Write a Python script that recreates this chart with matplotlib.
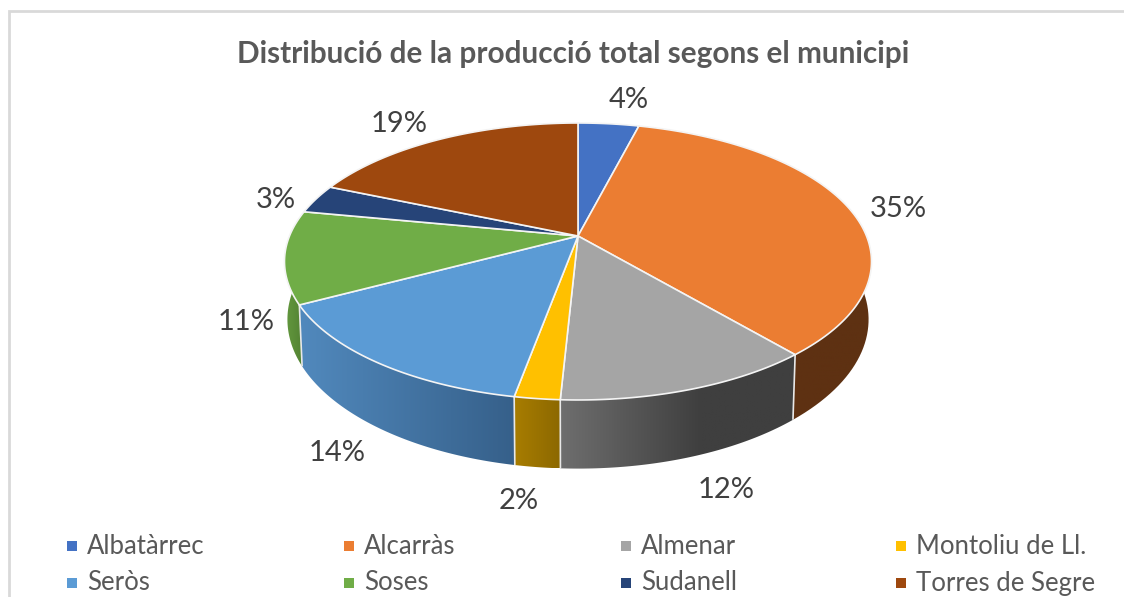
import numpy as np
import matplotlib
matplotlib.use("Agg")
import matplotlib.pyplot as plt
from matplotlib.patches import Polygon, Rectangle

title = "Distribució de la producció total segons el municipi"
municipis = ["Albatàrrec", "Alcarràs", "Almenar", "Montoliu de Ll.",
             "Seròs", "Soses", "Sudanell", "Torres de Segre"]
# shares estimated from the slice edges, they round to the printed labels
percent = [4.0, 34.8, 12.0, 2.1, 14.3, 10.8, 3.4, 18.6]

colors = ["#4472c4", "#eb7d32", "#a5a5a5", "#ffc000",
          "#5b9bd5", "#70ad47", "#264478", "#9e480e"]
# wall gradient, left colour and right colour
wall_left = ["#2f5597", "#5e3112", "#6e6e6e", "#a87d00",
             "#5189bd", "#649a3f", "#1c3359", "#5e2a08"]
wall_right = ["#2f5597", "#5e3112", "#3f3f3f", "#8c6800",
              "#36608a", "#4f7d30", "#1c3359", "#5e2a08"]

# pixel layout
label_pos = [(629, 100), (898, 209), (726, 490), (519, 501),
             (337, 453), (246, 322), (276, 200), (399, 124)]
legend_x = [72, 349, 626, 901]
legend_y = [546, 583]

# perspective of the pie
cx, cy = 578, 236
ax_x, ax_y = 288.5, 133.8
k = 0.184
depth = 56
shrink = 0.99

plt.rcParams["font.family"] = ["Lato", "DejaVu Sans"]
text_col = "#595959"

fig = plt.figure(figsize=(11.24, 5.97), dpi=100)
ax = fig.add_axes([0, 0, 1, 1])


def top_xy(deg):
    t = np.radians(deg)
    w = 1 + k * np.cos(t)
    return cx + ax_x * np.sin(t) / w, cy - ax_y * np.cos(t) / w


def bottom_xy(deg):
    t = np.radians(deg)
    w = 1 + k * np.cos(t)
    return cx + shrink * ax_x * np.sin(t) / w, cy - ax_y * np.cos(t) / w + depth / w


edges = np.cumsum([0] + percent) * 3.6

# walls first, the top covers whatever is behind it
for i in range(len(percent)):
    arc = np.linspace(edges[i], edges[i + 1], 80)
    tx, ty = top_xy(arc)
    bx, by = bottom_xy(arc)
    pts = np.column_stack([np.r_[tx, bx[::-1]], np.r_[ty, by[::-1]]])
    clip = Polygon(pts, closed=True, facecolor="none", edgecolor="none")
    ax.add_patch(clip)
    c0 = np.array(matplotlib.colors.to_rgb(wall_left[i]))
    c1 = np.array(matplotlib.colors.to_rgb(wall_right[i]))
    grad = np.linspace(0, 1, 128)[None, :, None]
    if i == 2:
        # almenar goes flat after the first part
        grad = np.clip(grad / 0.6, 0, 1)
    img = c0 + (c1 - c0) * grad
    im = ax.imshow(img, extent=[pts[:, 0].min(), pts[:, 0].max(), pts[:, 1].max(), pts[:, 1].min()],
                   aspect="auto", interpolation="bilinear", zorder=1)
    im.set_clip_path(clip)

for e in edges[:-1]:
    x0, y0 = top_xy(e)
    x1, y1 = bottom_xy(e)
    ax.plot([x0, x1], [y0, y1], color="#e8e8e8", lw=1.2, solid_capstyle="butt", zorder=2)

for i in range(len(percent)):
    arc = np.linspace(edges[i], edges[i + 1], 120)
    tx, ty = top_xy(arc)
    pts = np.column_stack([np.r_[cx, tx], np.r_[cy, ty]])
    ax.add_patch(Polygon(pts, closed=True, facecolor=colors[i], edgecolor="#f4f4f4",
                         lw=1.2, joinstyle="round", zorder=3))

for p, pos in zip(percent, label_pos):
    ax.text(pos[0], pos[1], f"{p:.0f}%", ha="center", va="center", fontsize=21, color="#404040")

ax.text(573, 54, title, ha="center", va="center", fontsize=21.4, fontweight="bold", color=text_col)

for i, name in enumerate(municipis):
    x = legend_x[i % 4]
    y = legend_y[i // 4]
    ax.add_patch(Rectangle((x - 5, y - 5), 10, 10, facecolor=colors[i], edgecolor="none"))
    ax.text(x + 15, y, name, ha="left", va="center", fontsize=18.5, color=text_col)

# chart frame, cut off at the right and bottom
ax.plot([9, 9, 1124], [597, 11, 11], color="#d9d9d9", lw=2, solid_joinstyle="miter")

ax.set_xlim(0, 1124)
ax.set_ylim(597, 0)
ax.axis("off")

fig.savefig("out.png", dpi=100)
